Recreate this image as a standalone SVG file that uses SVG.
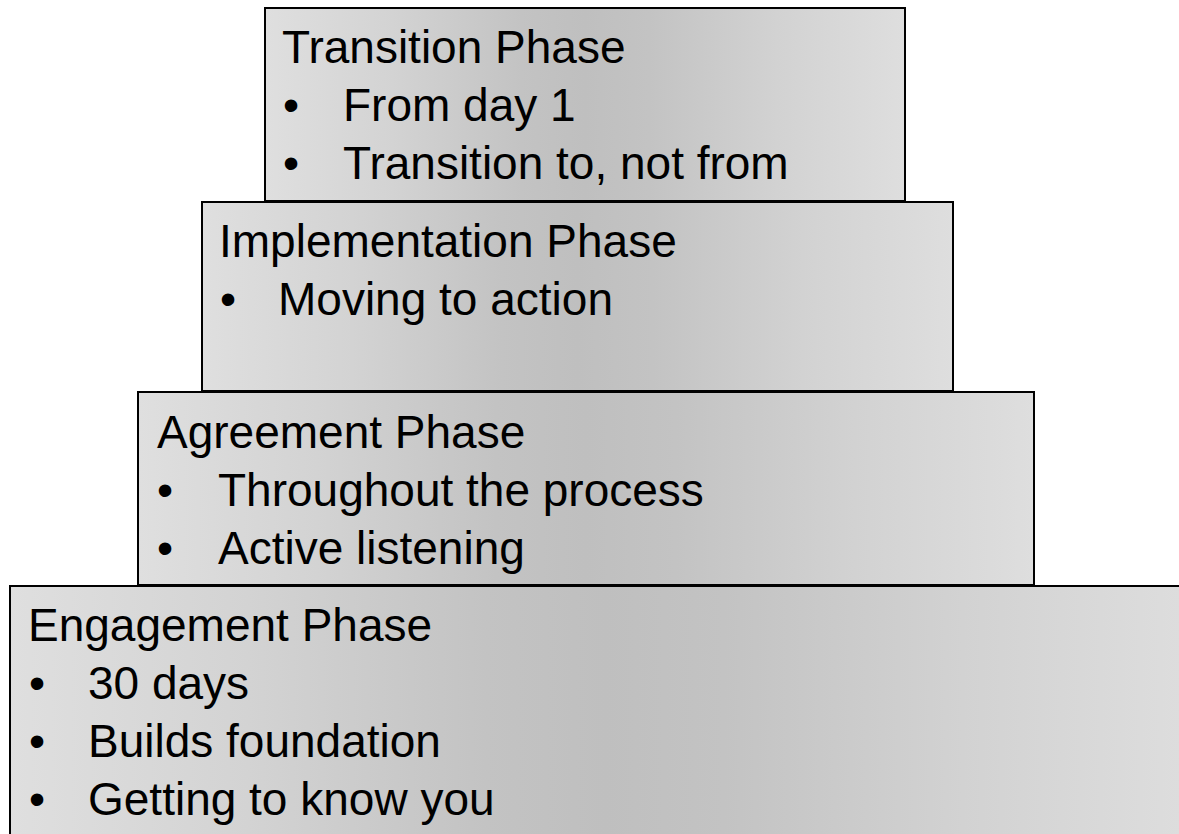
<svg xmlns="http://www.w3.org/2000/svg" width="1179" height="834" viewBox="0 0 1179 834">
  <defs>
    <!-- shared tier fill: light at the sides, easing to a darker middle -->
    <linearGradient id="tierFill" x1="0" y1="0" x2="1" y2="0">
      <stop offset="0" stop-color="#dfdfdf"/>
      <stop offset="0.2" stop-color="#d3d3d3"/>
      <stop offset="0.4" stop-color="#c3c3c3"/>
      <stop offset="0.5" stop-color="#bfbfbf"/>
      <stop offset="0.6" stop-color="#c3c3c3"/>
      <stop offset="0.8" stop-color="#d2d2d2"/>
      <stop offset="1" stop-color="#dedede"/>
    </linearGradient>
  </defs>
  <style>
    .tier { fill: url(#tierFill); stroke: #000; stroke-width: 2; }
    .label { font-family: "Liberation Sans", Arial, sans-serif; font-size: 46px; fill: #000; }
  </style>
  <rect width="1179" height="834" fill="#fff"/>

  <!-- Tier 4 (top): Transition -->
  <g id="transition">
    <rect class="tier" x="265" y="8" width="640" height="193"/>
    <text class="label" x="282" y="63">Transition Phase</text>
    <text class="label" x="283" y="121">•</text>
    <text class="label" x="343" y="121">From day 1</text>
    <text class="label" x="283" y="179">•</text>
    <text class="label" x="343" y="179">Transition to, not from</text>
  </g>

  <!-- Tier 3: Implementation -->
  <g id="implementation">
    <rect class="tier" x="202" y="202" width="751" height="189"/>
    <text class="label" x="219" y="257">Implementation Phase</text>
    <text class="label" x="220" y="315">•</text>
    <text class="label" x="278" y="315">Moving to action</text>
  </g>

  <!-- Tier 2: Agreement -->
  <g id="agreement">
    <rect class="tier" x="138" y="392" width="896" height="193"/>
    <text class="label" x="157" y="448">Agreement Phase</text>
    <text class="label" x="157" y="506">•</text>
    <text class="label" x="218" y="506">Throughout the process</text>
    <text class="label" x="157" y="564">•</text>
    <text class="label" x="218" y="564">Active listening</text>
  </g>

  <!-- Tier 1 (base): Engagement -->
  <g id="engagement">
    <rect class="tier" x="10" y="586" width="1190" height="270"/>
    <text class="label" x="28" y="641">Engagement Phase</text>
    <text class="label" x="29" y="699">•</text>
    <text class="label" x="88" y="699">30 days</text>
    <text class="label" x="29" y="757">•</text>
    <text class="label" x="88" y="757">Builds foundation</text>
    <text class="label" x="29" y="815">•</text>
    <text class="label" x="88" y="815">Getting to know you</text>
  </g>

  <g id="connectors"/>
</svg>
